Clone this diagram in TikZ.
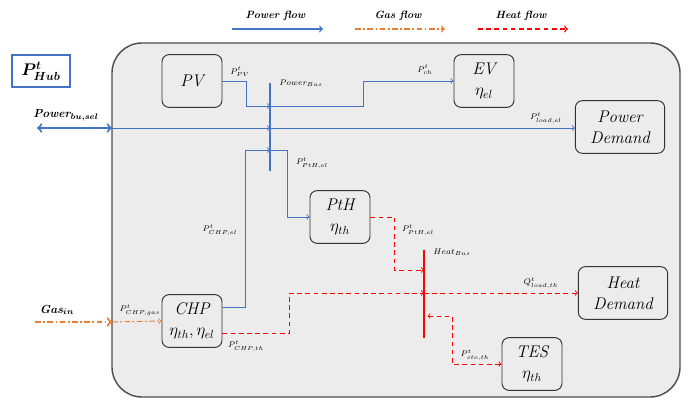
\documentclass[tikz,border=0pt]{standalone}
\usepackage{amsmath}
\usepackage{amssymb}
\usepackage{tikz}
\definecolor{HUBblue}{RGB}{68,114,196}
\definecolor{HUBorange}{RGB}{237,125,49}
\definecolor{HUBred}{RGB}{255,0,0}
\definecolor{HUBgray}{RGB}{236,236,236}

\begin{document}
\begin{tikzpicture}[x=0.03cm,y=-0.03cm,
    unit/.style={draw=black!80,fill=HUBgray,rounded corners=6pt,thick,minimum width=1.8cm,
                 minimum height=1.58cm,align=center,font=\Large\itshape},
    demand/.style={unit,minimum width=2.68cm},
    lbl/.style={font=\scriptsize,inner sep=1pt},
    legend/.style={font=\small\bfseries\itshape,inner sep=1pt},
    pflow/.style={HUBblue,thick},
    gflow/.style={HUBorange,thick,dash pattern=on 5pt off 2pt on 1.5pt off 2pt},
    hflow/.style={HUBred,thick,dash pattern=on 4pt off 3pt},
    bus/.style={line width=2.5pt}]
  \useasboundingbox (0,0) rectangle (695,401);
  % energy hub
  \node[draw=black!70,line width=1.2pt,fill=HUBgray,rounded corners=0.9cm,minimum width=17.04cm,
        minimum height=10.62cm,inner sep=0pt,outer sep=0pt] (hub) at (396,220) {};
  \node[draw=HUBblue,line width=1.2pt,fill=white,minimum width=1.74cm,minimum height=0.96cm,
        font=\Large] (phub) at (41,71) {$\boldsymbol{P^{t}_{Hub}}$};
  % legend
  \foreach \nm/\xa/\xb/\sty/\txt in {lp/232/323/pflow/Power flow,lg/355/445/gflow/Gas flow,lh/478/568/hflow/Heat flow}{
    \node[legend] (\nm) at ({(\xa+\xb)/2-2},16) {\txt};
    \coordinate (\nm a) at (\xa,29);
    \coordinate (\nm b) at (\xb,29);
    \draw[\sty,->,line width=1.2pt] (\nm a) -- (\nm b);
  }
  % units
  \node[unit] (pv) at (192,81) {PV};
  \node[unit] (ev) at (484,81) {EV\\$\eta_{el}$};
  \node[demand] (pdem) at (620,127) {Power\\Demand};
  \node[unit] (pth) at (340,217) {PtH\\$\eta_{th}$};
  \node[unit] (chp) at (192,321) {CHP\\$\eta_{th},\eta_{el}$};
  \node[demand] (hdem) at (623,293) {Heat\\Demand};
  \node[unit] (tes) at (532,364) {TES\\$\eta_{th}$};
  % buses
  \coordinate (pbt) at (270,83);
  \coordinate (pbb) at (270,171);
  \coordinate (pb1) at (270,106);
  \coordinate (pb2) at (270,128);
  \coordinate (pb3) at (270,150);
  \draw[HUBblue,bus] (pbt) -- (pbb);
  \coordinate (hbt) at (424,250);
  \coordinate (hbb) at (424,338);
  \coordinate (hb1) at (424,270);
  \coordinate (hb2) at (424,293);
  \coordinate (hb3) at (424,316);
  \draw[HUBred,bus] (hbt) -- (hbb);
  % outside
  \coordinate (gridin) at (37,128);
  \coordinate (gasin) at (35,322);
  \node[legend,font=\normalsize\bfseries\itshape] (lgrid) at (66,115) {Power$_{\boldsymbol{bu,sel}}$};
  \node[legend,font=\normalsize\bfseries\itshape] (lgas) at (57,310) {Gas$_{\boldsymbol{in}}$};
  \draw[pflow,<->,line width=1.8pt] (gridin) -- (hub.west |- gridin);
  \draw[gflow,->,line width=1.8pt] (gasin) -- (hub.west |- gasin);
  % power flows
  \draw[pflow,->] (hub.west |- pb2) -- (pb2);
  \draw[pflow,->] (pb2) -- (pdem.west |- pb2);
  \draw[pflow,->] (pv.east) -- ++(24,0) |- (pb1);
  \draw[pflow,->] (pb1) -- ++(93,0) |- (ev.west);
  \draw[pflow,->] ([yshift=0.4cm]chp.east) -- ++(23,0) |- (pb3);
  \draw[pflow,->] (pb3) -- ++(17,0) |- (pth.west);
  % gas flow
  \draw[gflow,->] (hub.west |- gasin) -- (chp.west);
  % heat flows
  \draw[hflow,->] (pth.east) -- ++(24,0) |- (hb1);
  \draw[hflow,->] ([yshift=-0.36cm]chp.east) -- ++(67,0) |- (hb2);
  \draw[hflow,->] (hb2) -- (hdem.west);
  \draw[hflow,<->,shorten <=3pt] (hb3) -- ++(28,0) |- (tes.west);
  % labels
  \node[lbl] (lppv) at (240,72) {$P^t_{PV}$};
  \node[lbl] (lpbus) at (301,83) {$Power_{Bus}$};
  \node[lbl] (lpch) at (425,70) {$P^t_{ch}$};
  \node[lbl] (lpload) at (546,118) {$P^t_{load,el}$};
  \node[lbl] (lppth) at (312,163) {$P^t_{PtH,el}$};
  \node[lbl] (lpchp) at (220,230) {$P^t_{CHP,el}$};
  \node[lbl] (lppthh) at (418,230) {$P^t_{PtH,el}$};
  \node[lbl] (lhbus) at (452,252) {$Heat_{Bus}$};
  \node[lbl] (lqload) at (541,283) {$Q^t_{load,th}$};
  \node[lbl] (lpsto) at (475,355) {$P^t_{sto,th}$};
  \node[lbl] (lpchpth) at (246,346) {$P^t_{CHP,th}$};
  \node[lbl] (lpgas) at (140,310) {$P^t_{CHP,gas}$};
\end{tikzpicture}
\end{document}
